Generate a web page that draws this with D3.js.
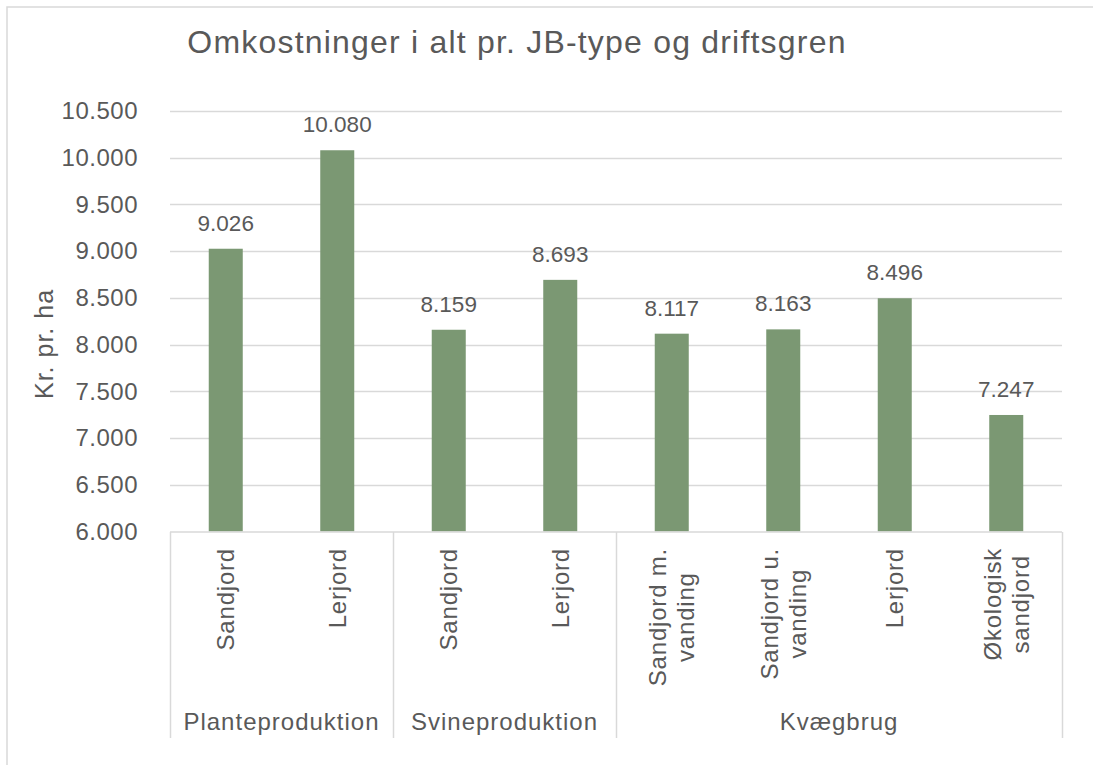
<!DOCTYPE html>
<html>
<head>
<meta charset="utf-8">
<script src="https://cdn.jsdelivr.net/npm/d3@7"></script>
<style>
  html, body { margin: 0; padding: 0; background: #fff; }
  svg { display: block; font-family: "Liberation Sans", Arial, sans-serif; }
</style>
</head>
<body>
<svg id="chart" width="1093" height="765"></svg>
<script>
// ---- Data ----
const title = "Omkostninger i alt pr. JB-type og driftsgren";
const yAxisTitle = "Kr. pr. ha";
const groups = ["Planteproduktion", "Svineproduktion", "Kvægbrug"];
const categoryLabels = [
  ["Sandjord"], ["Lerjord"],
  ["Sandjord"], ["Lerjord"],
  ["Sandjord m.", "vanding"], ["Sandjord u.", "vanding"], ["Lerjord"], ["Økologisk", "sandjord"]
];
const categoryGroup = [0, 0, 1, 1, 2, 2, 2, 2];
const values = [9026, 10080, 8159, 8693, 8117, 8163, 8496, 7247];
const yTicks = [6000, 6500, 7000, 7500, 8000, 8500, 9000, 9500, 10000, 10500];

// ---- Setup ----
const W = 1093, H = 765;
const plot = { left: 170, right: 1062, top: 111, bottom: 531.5 };
const textColor = "#595959";
const gridColor = "#d9d9d9";
const barColor = "#7b9873";

const locale = d3.formatLocale({ decimal: ",", thousands: ".", grouping: [3], currency: ["", " kr"] });
const fmt = locale.format(",d");

const svg = d3.select("#chart");
svg.append("rect").attr("width", W).attr("height", H).attr("fill", "#fff");

// outer chart border (only top and left visible in the crop)
svg.append("path")
  .attr("d", `M7,${H} L7,7 L${W},7`)
  .attr("fill", "none").attr("stroke", "#d9d9d9").attr("stroke-width", 1.5);

const x = d3.scaleBand()
  .domain(d3.range(values.length))
  .range([plot.left, plot.right])
  .paddingInner(0.695)
  .paddingOuter(0.3475);

const y = d3.scaleLinear()
  .domain([yTicks[0], yTicks[yTicks.length - 1]])
  .range([plot.bottom, plot.top]);

// Gridlines
svg.append("g").selectAll("line")
  .data(yTicks.slice(1))
  .join("line")
  .attr("x1", plot.left).attr("x2", plot.right)
  .attr("y1", d => Math.round(y(d)) + 0.5).attr("y2", d => Math.round(y(d)) + 0.5)
  .attr("stroke", gridColor).attr("stroke-width", 1.3);

// Y axis (labels only)
const yAxis = d3.axisLeft(y).tickValues(yTicks).tickFormat(fmt).tickSize(0).tickPadding(32);
const yg = svg.append("g").attr("transform", `translate(${plot.left},0)`).call(yAxis);
yg.select(".domain").remove();
yg.selectAll("text")
  .attr("fill", textColor)
  .style("font-size", "24px")
  .style("letter-spacing", "0.5px")
  .style("font-family", '"Liberation Sans", Arial, sans-serif');

// Bars
svg.append("g").selectAll("rect")
  .data(values)
  .join("rect")
  .attr("x", (d, i) => x(i))
  .attr("width", x.bandwidth())
  .attr("y", d => y(d))
  .attr("height", d => y(yTicks[0]) - y(d))
  .attr("fill", barColor);

// Data labels
svg.append("g").selectAll("text")
  .data(values)
  .join("text")
  .attr("x", (d, i) => x(i) + x.bandwidth() / 2)
  .attr("y", d => y(d) - 18)
  .attr("text-anchor", "middle")
  .attr("fill", textColor)
  .style("font-size", "22.5px")
  .text(d => fmt(d));

// Category axis box
const axisY = plot.bottom + 0.5;
const axisBottom = 738;
svg.append("line")
  .attr("x1", plot.left).attr("x2", plot.right)
  .attr("y1", axisY).attr("y2", axisY)
  .attr("stroke", gridColor).attr("stroke-width", 1.5);

// group boundaries
const groupStart = groups.map((g, gi) => categoryGroup.indexOf(gi));
const groupEnd = groups.map((g, gi) => categoryGroup.lastIndexOf(gi));
const step = x.step();
const boundaryX = i => plot.left + step * i;
const bounds = [0].concat(groupEnd.map(e => e + 1));
svg.append("g").selectAll("line")
  .data(bounds)
  .join("line")
  .attr("x1", d => Math.round(boundaryX(d)) + 0.5).attr("x2", d => Math.round(boundaryX(d)) + 0.5)
  .attr("y1", axisY).attr("y2", axisBottom)
  .attr("stroke", gridColor).attr("stroke-width", 1.5);

// category labels (rotated)
const labelTop = 548;
const lineH = 28;
const catG = svg.append("g");
categoryLabels.forEach((lines, i) => {
  const cx = x(i) + x.bandwidth() / 2;
  const g = catG.append("g");
  const texts = lines.map((ln, li) => g.append("text")
    .attr("text-anchor", "middle")
    .attr("fill", textColor)
    .style("font-size", "24px")
    .style("letter-spacing", "0.8px")
    .attr("dy", ((li - (lines.length - 1) / 2) * lineH + 8.5) + "px")
    .text(ln));
  const maxLen = d3.max(texts, t => t.node().getComputedTextLength());
  g.attr("transform", `translate(${cx},${labelTop + maxLen / 2}) rotate(-90)`);
});

// group labels
svg.append("g").selectAll("text")
  .data(groups)
  .join("text")
  .attr("x", (d, gi) => (boundaryX(groupStart[gi]) + boundaryX(groupEnd[gi] + 1)) / 2)
  .attr("y", 730)
  .attr("text-anchor", "middle")
  .attr("fill", textColor)
  .style("font-size", "24px")
  .style("letter-spacing", "1px")
  .text(d => d);

// Y axis title
svg.append("text")
  .attr("transform", `translate(44,344) rotate(-90)`)
  .attr("text-anchor", "middle")
  .attr("dy", "0.35em")
  .attr("fill", textColor)
  .style("font-size", "25px")
  .style("letter-spacing", "1px")
  .text(yAxisTitle);

// Title
svg.append("text")
  .attr("x", 517)
  .attr("y", 53)
  .attr("text-anchor", "middle")
  .attr("fill", textColor)
  .style("font-size", "32px")
  .style("letter-spacing", "1.2px")
  .text(title);
</script>
</body>
</html>
